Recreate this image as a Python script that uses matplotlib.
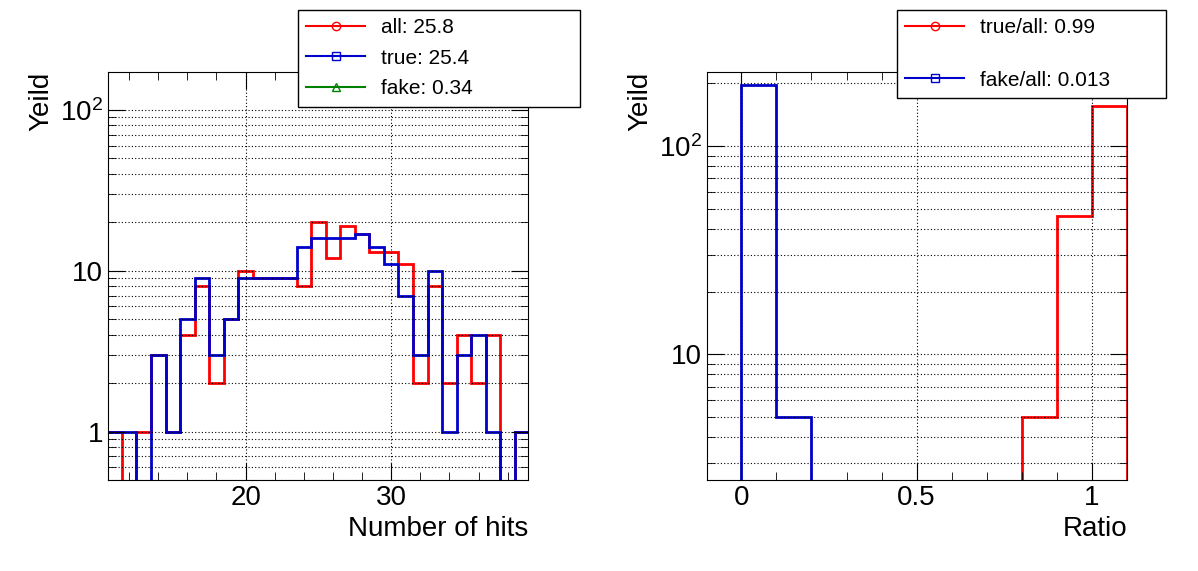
import numpy as np
import matplotlib.pyplot as plt
from matplotlib.lines import Line2D
from matplotlib.ticker import FixedLocator, FixedFormatter, LogLocator, MultipleLocator, NullFormatter

# number of hits histograms, bins centred on integers 11..39
hit_edges = np.arange(10.5, 40.5, 1.0)
all_hits = [1, 0, 1, 3, 1, 4, 8, 2, 5, 10, 9, 9, 9, 8, 20, 12, 19, 17, 13, 13, 11, 2, 8, 2, 4, 2, 4, 0, 1]
true_hits = [1, 1, 0, 3, 1, 5, 9, 3, 5, 9, 9, 9, 9, 14, 16, 16, 16, 17, 14, 11, 7, 3, 10, 1, 3, 4, 1, 0, 1]

# ratio histograms
ratio_edges = np.arange(0.0, 1.15, 0.1)
true_ratio = [0, 0, 0, 0, 0, 0, 0, 0, 5, 46, 155]
fake_ratio = [196, 5, 0, 0, 0, 0, 0, 0, 0, 0, 0]

left_labels = ["all: 25.8", "true: 25.4", "fake: 0.34"]
right_labels = ["true/all: 0.99", "fake/all: 0.013"]

plt.rcParams['font.family'] = ['Liberation Sans', 'DejaVu Sans']
plt.rcParams['mathtext.fontset'] = 'custom'
plt.rcParams['mathtext.rm'] = 'Liberation Sans'
fig = plt.figure(figsize=(11.98, 5.71), dpi=100)
W, H = 1198, 571
ax1 = fig.add_axes([108 / W, 1 - 480 / H, 420 / W, 408 / H])
ax2 = fig.add_axes([707 / W, 1 - 480 / H, 420 / W, 408 / H])


def style(ax):
    ax.set_yscale('log')
    ax.grid(True, which='major', linestyle=(0, (1, 2)), color='black', linewidth=0.8)
    ax.yaxis.grid(True, which='minor', linestyle=(0, (1, 2)), color='black', linewidth=0.8)
    ax.tick_params(which='both', direction='in', top=True, right=True, labelsize=20)
    ax.tick_params(which='major', length=12)
    ax.tick_params(which='minor', length=6)
    ax.yaxis.set_minor_formatter(NullFormatter())
    ax.set_ylabel("Yeild", fontsize=20, loc='top')


style(ax1)
ax1.stairs(all_hits, hit_edges, color='red', linewidth=2, baseline=1e-3)
ax1.stairs(true_hits, hit_edges, color='#0000cc', linewidth=2, baseline=1e-3)
ax1.set_xlim(10.55, 39.4)
ax1.set_ylim(0.5, 172)
ax1.xaxis.set_major_locator(MultipleLocator(10))
ax1.xaxis.set_minor_locator(MultipleLocator(2))
ax1.yaxis.set_major_locator(FixedLocator([1, 10, 100]))
ax1.yaxis.set_major_formatter(FixedFormatter(["1", "10", "$\\mathregular{10^2}$"]))
ax1.yaxis.set_minor_locator(LogLocator(subs=np.arange(2, 10)))
ax1.set_xlabel("Number of hits", fontsize=20, loc='right')

style(ax2)
ax2.stairs(true_ratio, ratio_edges, color='red', linewidth=2, baseline=1e-3)
ax2.stairs(fake_ratio, ratio_edges, color='#0000cc', linewidth=2, baseline=1e-3)
ax2.set_xlim(-0.098, 1.1)
ax2.set_ylim(2.49, 227)
ax2.xaxis.set_major_locator(FixedLocator([0, 0.5, 1]))
ax2.xaxis.set_major_formatter(FixedFormatter(["0", "0.5", "1"]))
ax2.xaxis.set_minor_locator(MultipleLocator(0.1))
ax2.yaxis.set_major_locator(FixedLocator([10, 100]))
ax2.yaxis.set_major_formatter(FixedFormatter(["10", "$\\mathregular{10^2}$"]))
ax2.yaxis.set_minor_locator(LogLocator(subs=np.arange(2, 10)))
ax2.set_xlabel("Ratio", fontsize=20, loc='right')

mk = dict(markerfacecolor='none', markersize=6, linewidth=1.5)
h1 = [Line2D([], [], color='red', marker='o', **mk),
      Line2D([], [], color='#0000cc', marker='s', **mk),
      Line2D([], [], color='green', marker='^', **mk)]
h2 = h1[:2]

for handles, labels, box in [(h1, left_labels, (298, 10, 580, 128)),
                             (h2, right_labels, (897, 10, 1166, 128))]:
    x0, y0, x1, y1 = box
    leg = fig.legend(handles, labels, loc='upper left',
                     bbox_to_anchor=(x0 / W, 1 - y1 / H, (x1 - x0) / W, (y1 - y0) / H),
                     bbox_transform=fig.transFigure,
                     mode='expand', fancybox=False, edgecolor='black', framealpha=1,
                     fontsize=15, handlelength=2.8, borderaxespad=0,
                     labelspacing=0.55 if len(labels) == 3 else 1.6)
    leg.get_frame().set_linewidth(1)

fig.savefig("out.png", dpi=100)
